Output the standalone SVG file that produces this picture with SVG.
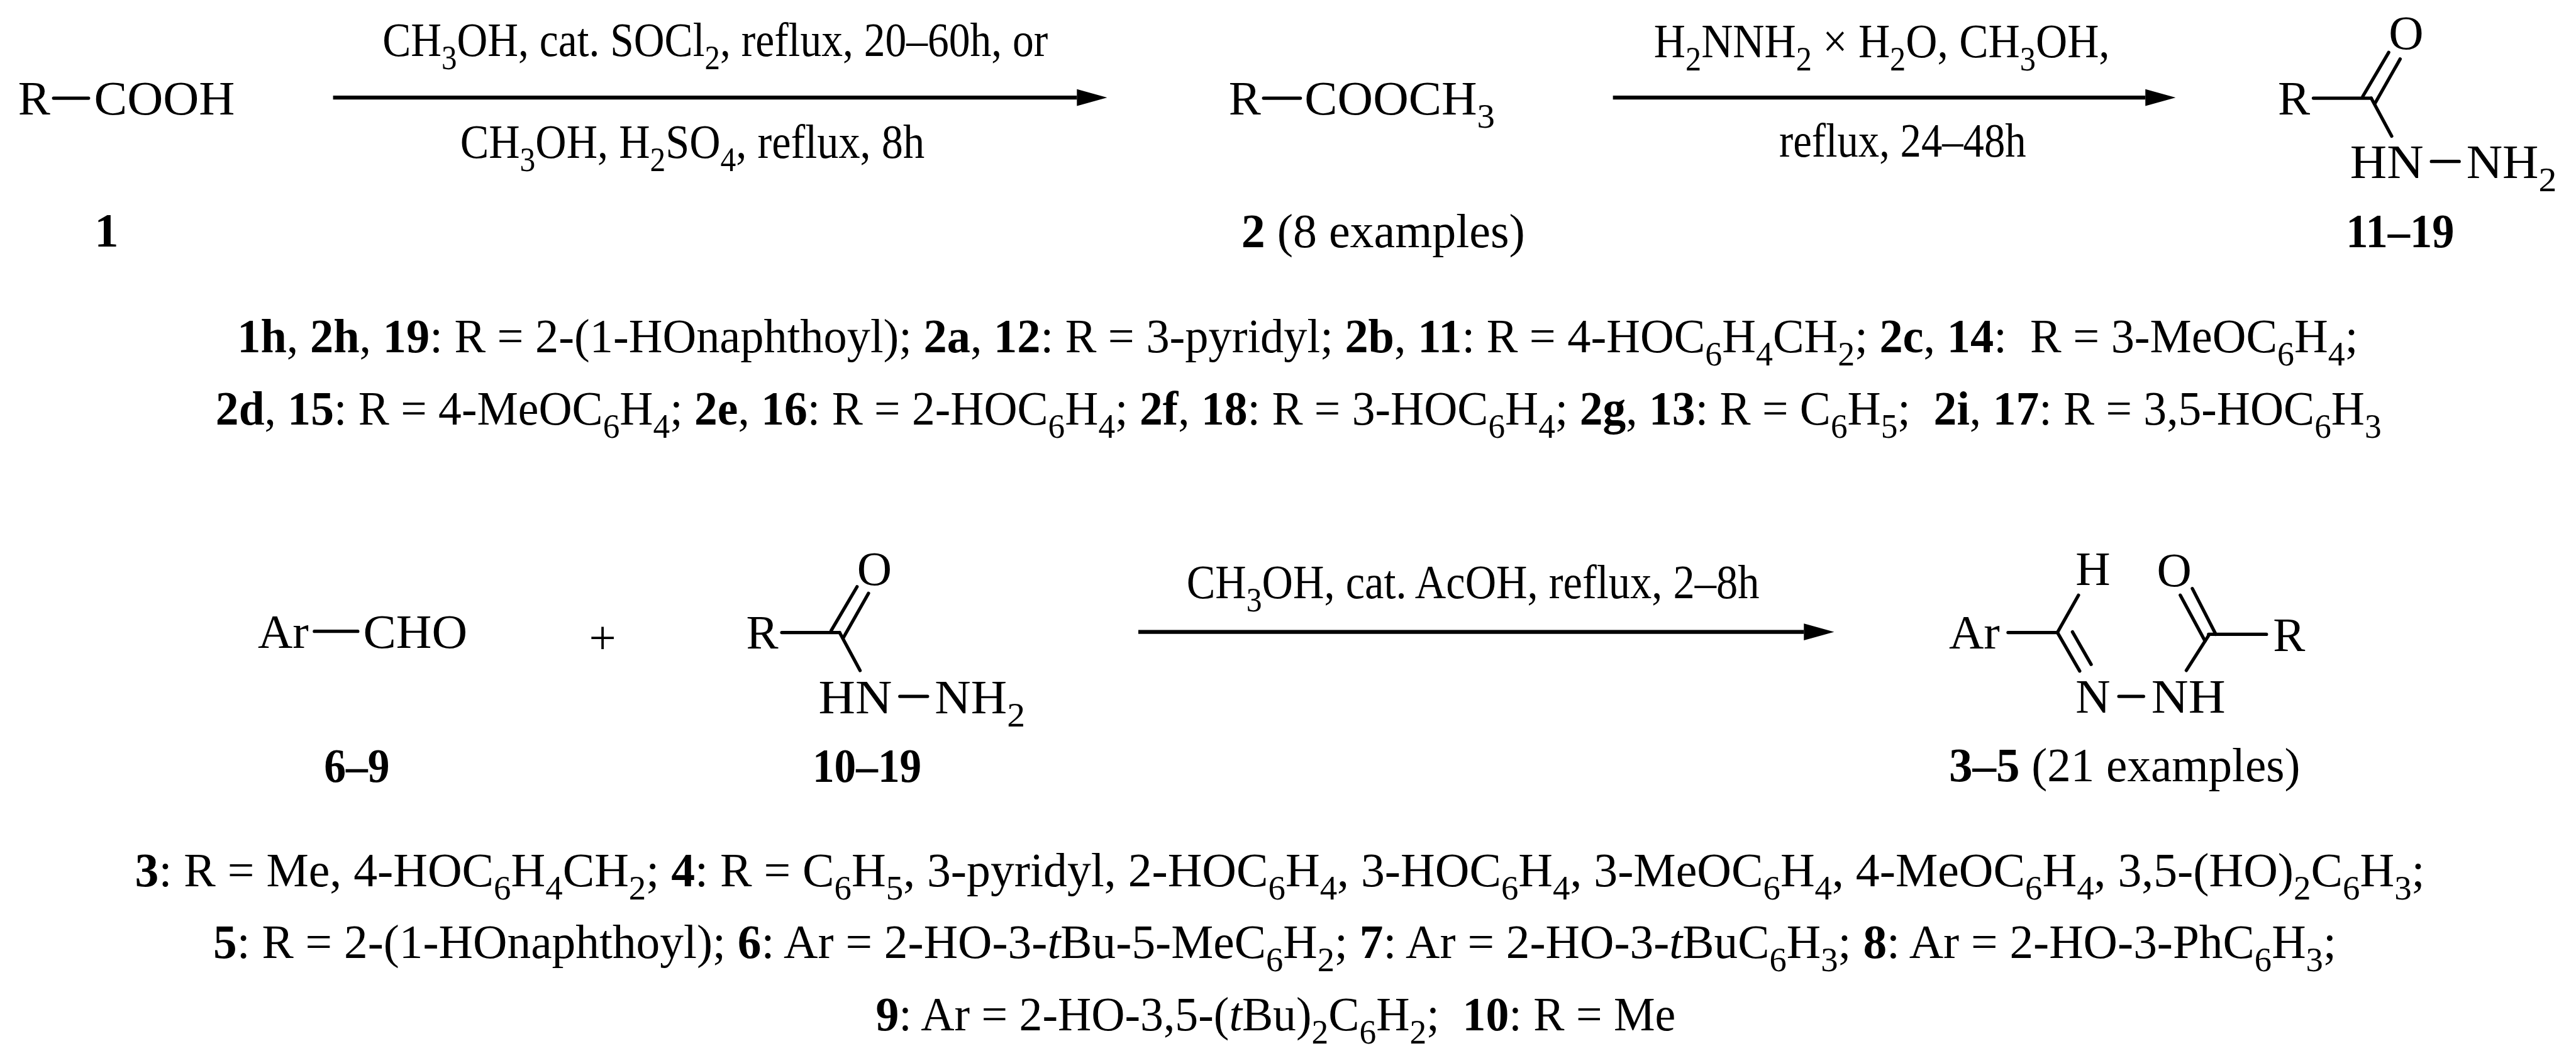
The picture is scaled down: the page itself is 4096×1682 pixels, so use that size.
<svg xmlns="http://www.w3.org/2000/svg" width="4096" height="1682" viewBox="0 0 4096 1682">
<style>
text{font-family:"Liberation Serif","Times New Roman",serif;font-size:80px;fill:#000;white-space:pre}
.s{font-size:58px;baseline-shift:-22px}
.b{font-weight:bold}
.i{font-style:italic}
line{stroke:#000;stroke-width:5.5;fill:none;stroke-linecap:round}
.arrow{stroke-width:6.5;stroke-linecap:butt}
</style>
<defs>
<marker id="head" markerUnits="userSpaceOnUse" markerWidth="50" markerHeight="30" refX="0" refY="15" orient="auto">
<path d="M0,1 L50,15 L0,29 Z" fill="#000"/>
</marker>
</defs>
<rect width="4096" height="1682" fill="#fff"/>
<g transform="scale(0.95768)">
<g id="connectors">
<line class="arrow" x1="553" y1="162" x2="1788" y2="162" marker-end="url(#head)"/>
<line class="arrow" x1="2678" y1="162" x2="3562" y2="162" marker-end="url(#head)"/>
<line class="arrow" x1="1890" y1="1049" x2="2995" y2="1049" marker-end="url(#head)"/>
</g>
<g id="cond-1">
<text x="635" y="93" textLength="1105" lengthAdjust="spacingAndGlyphs">CH<tspan class="s">3</tspan>OH, cat. SOCl<tspan class="s">2</tspan>, reflux, 20–60h, or</text>
<text x="764" y="262" textLength="771" lengthAdjust="spacingAndGlyphs">CH<tspan class="s">3</tspan>OH, H<tspan class="s">2</tspan>SO<tspan class="s">4</tspan>, reflux, 8h</text>
</g>
<g id="cond-2">
<text x="2746" y="95" textLength="757" lengthAdjust="spacingAndGlyphs">H<tspan class="s">2</tspan>NNH<tspan class="s">2</tspan> × H<tspan class="s">2</tspan>O, CH<tspan class="s">3</tspan>OH,</text>
<text x="2954" y="260" textLength="410" lengthAdjust="spacingAndGlyphs">reflux, 24–48h</text>
</g>
<g id="cond-3">
<text x="1970" y="993" textLength="951" lengthAdjust="spacingAndGlyphs">CH<tspan class="s">3</tspan>OH, cat. AcOH, reflux, 2–8h</text>
</g>
<g id="compound-1">
<text x="30" y="190">R</text>
<line x1="89" y1="163" x2="147" y2="163"/>
<text x="156" y="190" textLength="234" lengthAdjust="spacingAndGlyphs">COOH</text>
<text x="157" y="409" class="b">1</text>
</g>
<g id="compound-2">
<text x="2040" y="190">R</text>
<line x1="2098" y1="163" x2="2159" y2="163"/>
<text x="2166" y="190" textLength="316" lengthAdjust="spacingAndGlyphs">COOCH<tspan class="s">3</tspan></text>
<text x="2061" y="410" textLength="471" lengthAdjust="spacingAndGlyphs"><tspan class="b">2</tspan> (8 examples)</text>
</g>
<g id="compound-11-19">
<text x="3782" y="190">R</text>
<line x1="3841" y1="163" x2="3937" y2="163"/>
<text x="3966" y="81">O</text>
<line x1="3923" y1="160" x2="3966" y2="87"/>
<line x1="3943" y1="172" x2="3985" y2="98"/>
<line x1="3937" y1="163" x2="3971" y2="226"/>
<text x="3902" y="296" textLength="122" lengthAdjust="spacingAndGlyphs">HN</text>
<line x1="4037" y1="268" x2="4083" y2="268"/>
<text x="4095" y="296" textLength="150" lengthAdjust="spacingAndGlyphs">NH<tspan class="s">2</tspan></text>
<text x="3895" y="410" class="b" textLength="180" lengthAdjust="spacingAndGlyphs">11–19</text>
</g>
<g id="legend-top">
<text x="394" y="585" textLength="3521" lengthAdjust="spacingAndGlyphs"><tspan class="b">1h</tspan>, <tspan class="b">2h</tspan>, <tspan class="b">19</tspan>: R = 2-(1-HOnaphthoyl); <tspan class="b">2a</tspan>, <tspan class="b">12</tspan>: R = 3-pyridyl; <tspan class="b">2b</tspan>, <tspan class="b">11</tspan>: R = 4-HOC<tspan class="s">6</tspan>H<tspan class="s">4</tspan>CH<tspan class="s">2</tspan>; <tspan class="b">2c</tspan>, <tspan class="b">14</tspan>:  R = 3-MeOC<tspan class="s">6</tspan>H<tspan class="s">4</tspan>;</text>
<text x="358" y="705" textLength="3596" lengthAdjust="spacingAndGlyphs"><tspan class="b">2d</tspan>, <tspan class="b">15</tspan>: R = 4-MeOC<tspan class="s">6</tspan>H<tspan class="s">4</tspan>; <tspan class="b">2e</tspan>, <tspan class="b">16</tspan>: R = 2-HOC<tspan class="s">6</tspan>H<tspan class="s">4</tspan>; <tspan class="b">2f</tspan>, <tspan class="b">18</tspan>: R = 3-HOC<tspan class="s">6</tspan>H<tspan class="s">4</tspan>; <tspan class="b">2g</tspan>, <tspan class="b">13</tspan>: R = C<tspan class="s">6</tspan>H<tspan class="s">5</tspan>;  <tspan class="b">2i</tspan>, <tspan class="b">17</tspan>: R = 3,5-HOC<tspan class="s">6</tspan>H<tspan class="s">3</tspan></text>
</g>
<g id="compound-6-9">
<text x="428" y="1075">Ar</text>
<line x1="522" y1="1048" x2="594" y2="1048"/>
<text x="603" y="1075" textLength="173" lengthAdjust="spacingAndGlyphs">CHO</text>
<text x="538" y="1298" class="b" textLength="109" lengthAdjust="spacingAndGlyphs">6–9</text>
</g>
<g id="plus">
<text x="978" y="1085">+</text>
</g>
<g id="compound-10-19">
<text x="1239" y="1077">R</text>
<line x1="1298" y1="1050" x2="1394" y2="1050"/>
<text x="1423" y="971">O</text>
<line x1="1380" y1="1047" x2="1423" y2="974"/>
<line x1="1400" y1="1059" x2="1442" y2="985"/>
<line x1="1394" y1="1050" x2="1428" y2="1113"/>
<text x="1359" y="1184" textLength="122" lengthAdjust="spacingAndGlyphs">HN</text>
<line x1="1494" y1="1156" x2="1540" y2="1156"/>
<text x="1552" y="1184" textLength="150" lengthAdjust="spacingAndGlyphs">NH<tspan class="s">2</tspan></text>
<text x="1349" y="1298" class="b" textLength="181" lengthAdjust="spacingAndGlyphs">10–19</text>
</g>
<g id="compound-3-5">
<text x="3236" y="1077">Ar</text>
<line x1="3334" y1="1050" x2="3416" y2="1050"/>
<text x="3446" y="971">H</text>
<line x1="3416" y1="1050" x2="3451" y2="988"/>
<line x1="3416" y1="1050" x2="3453" y2="1114"/>
<line x1="3441" y1="1049" x2="3472" y2="1103"/>
<text x="3581" y="973">O</text>
<line x1="3679" y1="1053" x2="3640" y2="977"/>
<line x1="3661" y1="1064" x2="3620" y2="988"/>
<line x1="3667" y1="1053" x2="3763" y2="1053"/>
<text x="3774" y="1081">R</text>
<line x1="3667" y1="1055" x2="3630" y2="1113"/>
<text x="3446" y="1183">N</text>
<line x1="3518" y1="1156" x2="3559" y2="1156"/>
<text x="3572" y="1183" textLength="123" lengthAdjust="spacingAndGlyphs">NH</text>
<text x="3236" y="1297" textLength="583" lengthAdjust="spacingAndGlyphs"><tspan class="b">3–5</tspan> (21 examples)</text>
</g>
<g id="legend-bottom">
<text x="224" y="1471" textLength="3802" lengthAdjust="spacingAndGlyphs"><tspan class="b">3</tspan>: R = Me, 4-HOC<tspan class="s">6</tspan>H<tspan class="s">4</tspan>CH<tspan class="s">2</tspan>; <tspan class="b">4</tspan>: R = C<tspan class="s">6</tspan>H<tspan class="s">5</tspan>, 3-pyridyl, 2-HOC<tspan class="s">6</tspan>H<tspan class="s">4</tspan>, 3-HOC<tspan class="s">6</tspan>H<tspan class="s">4</tspan>, 3-MeOC<tspan class="s">6</tspan>H<tspan class="s">4</tspan>, 4-MeOC<tspan class="s">6</tspan>H<tspan class="s">4</tspan>, 3,5-(HO)<tspan class="s">2</tspan>C<tspan class="s">6</tspan>H<tspan class="s">3</tspan>;</text>
<text x="354" y="1590" textLength="3525" lengthAdjust="spacingAndGlyphs"><tspan class="b">5</tspan>: R = 2-(1-HOnaphthoyl); <tspan class="b">6</tspan>: Ar = 2-HO-3-<tspan class="i">t</tspan>Bu-5-MeC<tspan class="s">6</tspan>H<tspan class="s">2</tspan>; <tspan class="b">7</tspan>: Ar = 2-HO-3-<tspan class="i">t</tspan>BuC<tspan class="s">6</tspan>H<tspan class="s">3</tspan>; <tspan class="b">8</tspan>: Ar = 2-HO-3-PhC<tspan class="s">6</tspan>H<tspan class="s">3</tspan>;</text>
<text x="1454" y="1710" textLength="1328" lengthAdjust="spacingAndGlyphs"><tspan class="b">9</tspan>: Ar = 2-HO-3,5-(<tspan class="i">t</tspan>Bu)<tspan class="s">2</tspan>C<tspan class="s">6</tspan>H<tspan class="s">2</tspan>;  <tspan class="b">10</tspan>: R = Me</text>
</g>
</g>
</svg>
